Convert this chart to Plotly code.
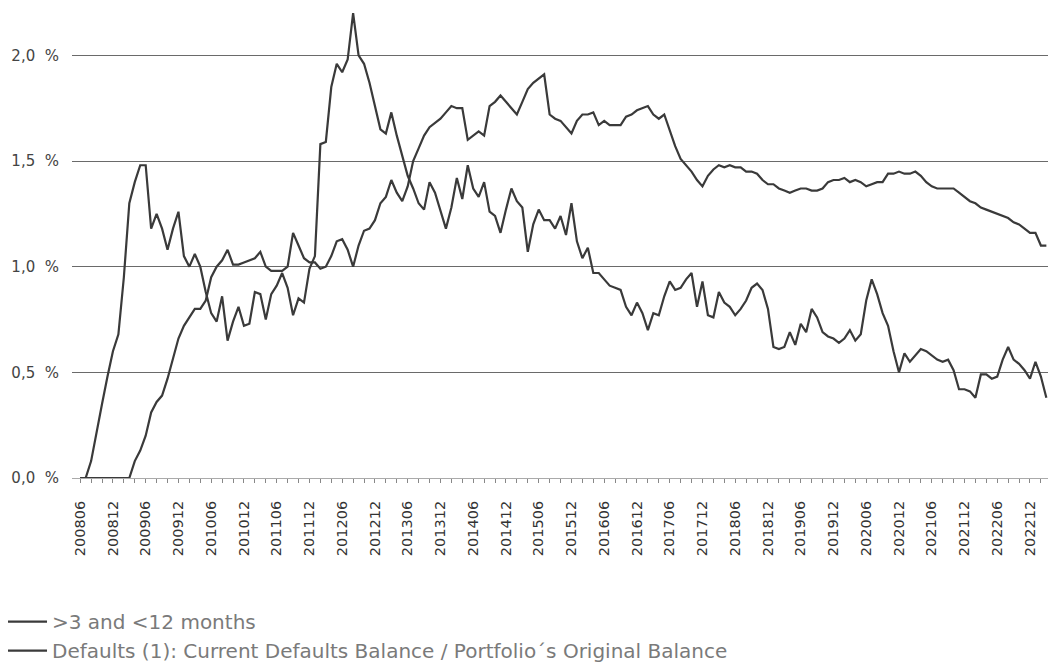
import plotly.graph_objects as go
import pandas as pd

# Monthly reporting dates (200806 .. 202303)
months = [p.strftime("%Y%m") for p in pd.period_range("2008-06", "2023-03", freq="M")]

# >3 and <12 months arrears (% of portfolio)
arrears_3_12 = [
    0.00, 0.00, 0.08, 0.22, 0.35, 0.48, 0.60, 0.68, 0.95, 1.30,
    1.40, 1.48, 1.48, 1.18, 1.25, 1.18, 1.08, 1.18, 1.26, 1.05,
    1.00, 1.06, 1.00, 0.88, 0.78, 0.74, 0.86, 0.65, 0.74, 0.81,
    0.72, 0.73, 0.88, 0.87, 0.75, 0.87, 0.91, 0.97, 0.90, 0.77,
    0.85, 0.83, 0.99, 1.05, 1.58, 1.59, 1.85, 1.96, 1.92, 1.98,
    2.20, 2.00, 1.96, 1.87, 1.76, 1.65, 1.63, 1.73, 1.62, 1.53,
    1.43, 1.37, 1.30, 1.27, 1.40, 1.35, 1.26, 1.18, 1.28, 1.42,
    1.32, 1.48, 1.37, 1.33, 1.40, 1.26, 1.24, 1.16, 1.27, 1.37,
    1.31, 1.28, 1.07, 1.20, 1.27, 1.22, 1.22, 1.18, 1.24, 1.15,
    1.30, 1.12, 1.04, 1.09, 0.97, 0.97, 0.94, 0.91, 0.90, 0.89,
    0.81, 0.77, 0.83, 0.78, 0.70, 0.78, 0.77, 0.86, 0.93, 0.89,
    0.90, 0.94, 0.97, 0.81, 0.93, 0.77, 0.76, 0.88, 0.83, 0.81,
    0.77, 0.80, 0.84, 0.90, 0.92, 0.89, 0.80, 0.62, 0.61, 0.62,
    0.69, 0.63, 0.73, 0.69, 0.80, 0.76, 0.69, 0.67, 0.66, 0.64,
    0.66, 0.70, 0.65, 0.68, 0.84, 0.94, 0.87, 0.78, 0.72, 0.60,
    0.50, 0.59, 0.55, 0.58, 0.61, 0.60, 0.58, 0.56, 0.55, 0.56,
    0.51, 0.42, 0.42, 0.41, 0.38, 0.49, 0.49, 0.47, 0.48, 0.56,
    0.62, 0.56, 0.54, 0.51, 0.47, 0.55, 0.48, 0.38,
]

# Defaults (1): current defaults balance / portfolio's original balance (%)
defaults_ratio = [
    0.00, 0.00, 0.00, 0.00, 0.00, 0.00, 0.00, 0.00, 0.00, 0.00,
    0.08, 0.13, 0.20, 0.31, 0.36, 0.39, 0.47, 0.56, 0.66, 0.72,
    0.76, 0.80, 0.80, 0.84, 0.95, 1.00, 1.03, 1.08, 1.01, 1.01,
    1.02, 1.03, 1.04, 1.07, 1.00, 0.98, 0.98, 0.98, 1.00, 1.16,
    1.10, 1.04, 1.02, 1.02, 0.99, 1.00, 1.05, 1.12, 1.13, 1.08,
    1.00, 1.10, 1.17, 1.18, 1.22, 1.30, 1.33, 1.41, 1.35, 1.31,
    1.38, 1.50, 1.56, 1.62, 1.66, 1.68, 1.70, 1.73, 1.76, 1.75,
    1.75, 1.60, 1.62, 1.64, 1.62, 1.76, 1.78, 1.81, 1.78, 1.75,
    1.72, 1.78, 1.84, 1.87, 1.89, 1.91, 1.72, 1.70, 1.69, 1.66,
    1.63, 1.69, 1.72, 1.72, 1.73, 1.67, 1.69, 1.67, 1.67, 1.67,
    1.71, 1.72, 1.74, 1.75, 1.76, 1.72, 1.70, 1.72, 1.64, 1.57,
    1.51, 1.48, 1.45, 1.41, 1.38, 1.43, 1.46, 1.48, 1.47, 1.48,
    1.47, 1.47, 1.45, 1.45, 1.44, 1.41, 1.39, 1.39, 1.37, 1.36,
    1.35, 1.36, 1.37, 1.37, 1.36, 1.36, 1.37, 1.40, 1.41, 1.41,
    1.42, 1.40, 1.41, 1.40, 1.38, 1.39, 1.40, 1.40, 1.44, 1.44,
    1.45, 1.44, 1.44, 1.45, 1.43, 1.40, 1.38, 1.37, 1.37, 1.37,
    1.37, 1.35, 1.33, 1.31, 1.30, 1.28, 1.27, 1.26, 1.25, 1.24,
    1.23, 1.21, 1.20, 1.18, 1.16, 1.16, 1.10, 1.10,
]

series_names = [
    ">3 and <12 months",
    "Defaults (1): Current Defaults Balance / Portfolio\u00b4s Original Balance",
]

y_tick_values = [0.0, 0.5, 1.0, 1.5, 2.0]
y_tick_labels = ["0,0\u00a0\u00a0%", "0,5\u00a0\u00a0%", "1,0\u00a0\u00a0%", "1,5\u00a0\u00a0%", "2,0\u00a0\u00a0%"]

x_idx = list(range(len(months)))
label_idx = [i for i, m in enumerate(months) if m[4:] in ("06", "12")]
label_txt = [months[i] for i in label_idx]

line_color = "#3a3a3a"
fig = go.Figure()
for name, vals in zip(series_names, [arrears_3_12, defaults_ratio]):
    fig.add_trace(go.Scatter(
        x=x_idx, y=vals, mode="lines", name=name,
        line=dict(color=line_color, width=2.2),
        cliponaxis=False,
    ))

# the page body adds an 8px offset, so the figure is 8px smaller than the window
fig.update_layout(
    width=1054, height=656,
    margin=dict(l=64, r=14, t=0, b=186, autoexpand=False),
    paper_bgcolor="white", plot_bgcolor="white",
    font=dict(family="DejaVu Sans", color="#333"),
    showlegend=True,
    legend=dict(
        orientation="v", x=-0.0881, xanchor="left", y=-0.264, yanchor="top",
        font=dict(family="DejaVu Sans", size=20, color="#7a7a7a"),
        bgcolor="rgba(0,0,0,0)", itemwidth=56, tracegroupgap=0,
    ),
)

fig.update_xaxes(
    automargin=False,
    range=[-1.5, len(months) - 0.7],
    tickmode="array", tickvals=label_idx, ticktext=label_txt,
    tickangle=-90, tickfont=dict(family="DejaVu Sans", size=14.5, color="#333"),
    ticks="outside", ticklen=4, tickcolor="#888", tickwidth=1,
    ticklabelstandoff=12,
    showline=True, linecolor="#aaa", linewidth=1,
    showgrid=False, zeroline=False,
    minor=dict(tickmode="linear", tick0=0, dtick=2, ticks="outside",
               ticklen=4, tickcolor="#888", showgrid=False),
)

fig.update_yaxes(
    automargin=False,
    range=[0, 2.224],
    tickmode="array", tickvals=y_tick_values, ticktext=y_tick_labels,
    tickfont=dict(family="DejaVu Sans", size=15, color="#444"),
    showgrid=True, gridcolor="#6a6a6a", gridwidth=1,
    zeroline=False, showline=False, ticks="", ticklabelstandoff=12,
)

fig.write_html("out.html")
